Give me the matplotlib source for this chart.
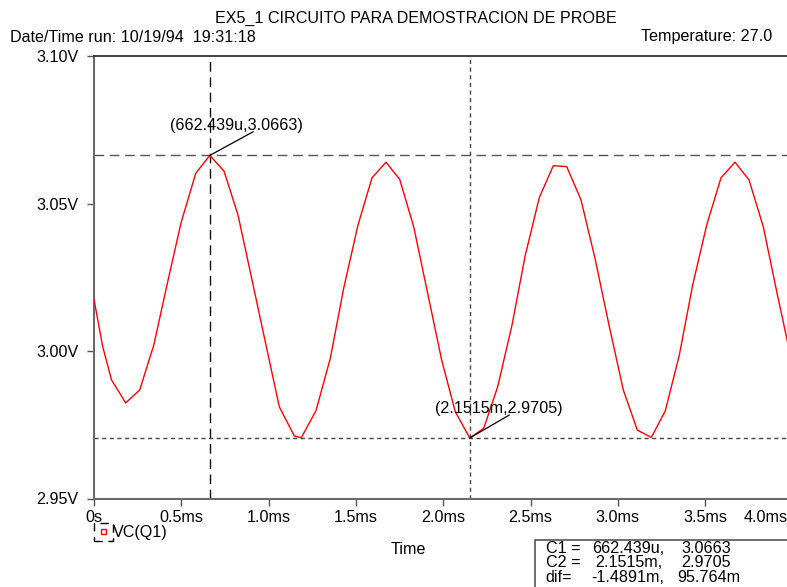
import matplotlib
matplotlib.use("Agg")
import matplotlib.pyplot as plt
from matplotlib.patches import Rectangle
from matplotlib.transforms import ScaledTranslation

plt.rcParams['font.family'] = ['Liberation Sans', 'DejaVu Sans']

# Transient waveform VC(Q1): time in ms, voltage in V
time_ms = [0.000, 0.0493, 0.0997, 0.1810, 0.2612, 0.3414, 0.4198, 0.4977, 0.5819,
           0.662439, 0.7440, 0.8242, 0.9044, 0.9845, 1.0607, 1.1466, 1.1867, 1.2709,
           1.3528, 1.4296, 1.5115, 1.5916, 1.6718, 1.7503, 1.8305, 1.9107, 1.9908,
           2.0687, 2.1515, 2.2314, 2.3116, 2.3935, 2.4697, 2.5498, 2.6300, 2.7068,
           2.7887, 2.8689, 2.9490, 3.0309, 3.1111, 3.1913, 3.2715, 3.3517, 3.4284,
           3.5086, 3.5905, 3.6707, 3.7509, 3.8328, 3.9112, 3.9914]
vc_q1 = [3.0173, 3.0015, 2.9902, 2.9824, 2.9868, 3.0019, 3.0230, 3.0434, 3.0602,
         3.0663, 3.0610, 3.0461, 3.0241, 3.0020, 2.9811, 2.9712, 2.9706, 2.9798,
         2.9975, 3.0213, 3.0427, 3.0587, 3.0640, 3.0582, 3.0421, 3.0195, 2.9969,
         2.9794, 2.9705, 2.9738, 2.9879, 3.0088, 3.0325, 3.0520, 3.0628, 3.0625,
         3.0512, 3.0314, 3.0088, 2.9868, 2.9732, 2.9707, 2.9797, 2.9986, 3.0224,
         3.0427, 3.0587, 3.0640, 3.0580, 3.0421, 3.0197, 2.9976]

x_ticks = [0.0, 0.5, 1.0, 1.5, 2.0, 2.5, 3.0, 3.5, 4.0]
x_tick_labels = ['0s', '0.5ms', '1.0ms', '1.5ms', '2.0ms', '2.5ms', '3.0ms', '3.5ms', '4.0ms']
y_ticks = [2.95, 3.00, 3.05, 3.10]
y_tick_labels = ['2.95V', '3.00V', '3.05V', '3.10V']

# Probe cursors
c1 = (0.662439, 3.0663)
c2 = (2.1515, 2.9705)
c1_label = '(662.439u,3.0663)'
c2_label = '(2.1515m,2.9705)'

title = 'EX5_1 CIRCUITO PARA DEMOSTRACION DE PROBE'
run_info = 'Date/Time run: 10/19/94  19:31:18'
temp_info = 'Temperature: 27.0'
trace_name = 'VC(Q1)'

W, H = 787, 587
fig = plt.figure(figsize=(W / 100, H / 100), dpi=100)
fs = 11.6


def fx(x):
    return x / W


def fy(y):
    return 1 - y / H


ax = fig.add_axes([fx(94.1), fy(498.5), fx(792.5) - fx(94.1), fy(56) - fy(498.5)])
ax.set_xlim(0, 4.0)
ax.set_ylim(2.95, 3.10)

ax.plot(time_ms, vc_q1, color='#ff0000', lw=1.0, zorder=3)

# Cursor crosshairs
ax.axvline(c1[0], color='#111111', lw=1.0, dashes=(7, 4), zorder=2)
ax.axhline(c1[1], color='#555555', lw=1.0, dashes=(7, 4), zorder=2)
ax.axvline(c2[0], color='#444444', lw=1.0, dashes=(3, 2.5), zorder=2)
ax.axhline(c2[1], color='#444444', lw=1.0, dashes=(3, 2.5), zorder=2)

# Cursor labels with leader lines
ax.annotate('', xy=c1, xytext=(43.5, 23.7), textcoords='offset pixels',
            arrowprops=dict(arrowstyle='-', color='black', lw=0.9, shrinkA=0, shrinkB=0))
ax.annotate(c1_label, xy=c1, xytext=(26.5, 29.5), textcoords='offset pixels',
            ha='center', va='center', fontsize=fs)
ax.annotate('', xy=c2, xytext=(39.5, 23.0), textcoords='offset pixels',
            arrowprops=dict(arrowstyle='-', color='black', lw=0.9, shrinkA=0, shrinkB=0))
ax.annotate(c2_label, xy=c2, xytext=(29.0, 30.0), textcoords='offset pixels',
            ha='center', va='center', fontsize=fs)

ax.set_xticks(x_ticks)
ax.set_xticklabels(x_tick_labels, fontsize=fs)
ax.set_yticks(y_ticks)
ax.set_yticklabels(y_tick_labels, fontsize=fs)
ax.tick_params(axis='both', direction='out', length=5, width=1.0, color='#555555')
ax.tick_params(axis='x', pad=3)
ax.tick_params(axis='y', pad=6)

# The last time label sits at the page edge; pull it inward
last = ax.get_xticklabels()[-1]
last.set_transform(last.get_transform() + ScaledTranslation(-27 / 100, 0, fig.dpi_scale_trans))

for side in ('left', 'bottom'):
    ax.spines[side].set_color('#6a6a6a')
    ax.spines[side].set_linewidth(1.5)
ax.spines['top'].set_color('#222222')
ax.spines['top'].set_linewidth(1.2)
ax.spines['right'].set_visible(False)

# Header
fig.text(fx(416), fy(18), title, ha='center', va='center', fontsize=fs)
fig.text(fx(10), fy(37), run_info, ha='left', va='center', fontsize=fs)
fig.text(fx(772), fy(37), temp_info, ha='right', va='center', fontsize=fs)

# Trace legend
fig.patches.append(Rectangle((fx(94.3), fy(540.7)), fx(112.7) - fx(94.3), fy(523.3) - fy(540.7),
                             transform=fig.transFigure, fill=False, edgecolor='black',
                             lw=1.0, linestyle=(0, (6, 4))))
fig.patches.append(Rectangle((fx(100.7), fy(534.3)), fx(106) - fx(100.7), fy(529.3) - fy(534.3),
                             transform=fig.transFigure, fill=False, edgecolor='#ff0000', lw=1.0))
fig.text(fx(113.3), fy(532.3), trace_name, ha='left', va='center', fontsize=fs)

# Axis title
fig.text(fx(408), fy(549), 'Time', ha='center', va='center', fontsize=fs)

# Cursor readout table
fig.patches.append(Rectangle((fx(535.3), fy(600)), fx(800) - fx(535.3), fy(540) - fy(600),
                             transform=fig.transFigure, fill=False, edgecolor='#555555', lw=1.2))
rows = [('C1 =', '662.439u,', '3.0663', 591.7, 681.0),
        ('C2 =', '2.1515m,', '2.9705', 595.0, 681.0),
        ('dif=', '-1.4891m,', '95.764m', 591.7, 677.7)]
for i, (name, tval, vval, xt, xv) in enumerate(rows):
    yy = 548.5 + i * 14.3
    fig.text(fx(545.7), fy(yy), name, ha='left', va='center', fontsize=fs)
    fig.text(fx(xt), fy(yy), tval, ha='left', va='center', fontsize=fs)
    fig.text(fx(xv), fy(yy), vval, ha='left', va='center', fontsize=fs)

fig.savefig('out.png', dpi=100)
